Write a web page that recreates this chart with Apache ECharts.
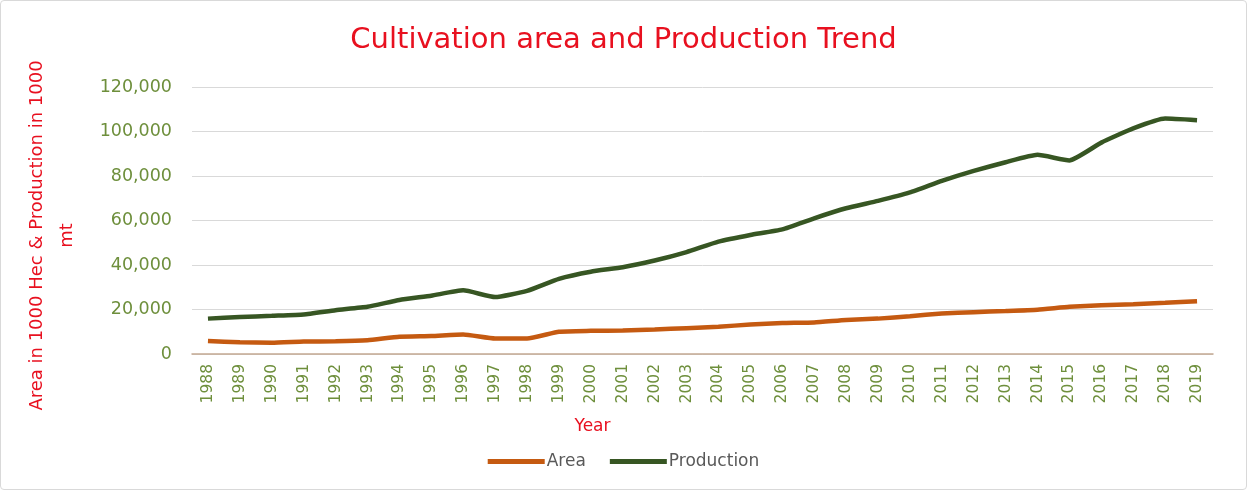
<!DOCTYPE html>
<html>
<head>
<meta charset="utf-8">
<script src="https://cdn.jsdelivr.net/npm/echarts@6/dist/echarts.min.js"></script>
<style>
html,body{margin:0;padding:0;background:#fff;}
#chart{position:absolute;left:0;top:0;width:1245px;height:488px;border:1px solid #d9d9d9;border-radius:4px;}
</style>
</head>
<body>
<div id="chart"></div>
<script>
var years = ['1988','1989','1990','1991','1992','1993','1994','1995','1996','1997','1998','1999','2000','2001','2002','2003','2004','2005','2006','2007','2008','2009','2010','2011','2012','2013','2014','2015','2016','2017','2018','2019'];
var area = [5800,5300,5100,5600,5700,6200,7800,8100,8800,7000,7000,10000,10400,10600,11000,11600,12200,13300,13900,14200,15300,15900,17000,18200,18800,19300,19900,21200,21900,22400,23000,23700];
var production = [15900,16600,17200,17800,19700,21200,24300,26200,28600,25600,28400,33800,37000,39000,42000,45800,50500,53500,56000,61000,65500,68800,72600,77800,82300,86200,89500,87000,95000,101400,105800,105100];
var yTicks = {min:0, max:120000, interval:20000};

var chart = echarts.init(document.getElementById('chart'));
var FONT = 'DejaVu Sans';
chart.setOption({
  animation:false,
  textStyle:{fontFamily:FONT},
  title:{
    text:'Cultivation area and Production Trend',
    left:'center', top:20,
    textStyle:{color:'#E8101F', fontSize:29, fontWeight:'normal', fontFamily:FONT}
  },
  legend:{
    data:['Area','Production'],
    bottom:14, left:'center',
    icon:'rect', itemWidth:57, itemHeight:5, itemGap:24,
    textStyle:{color:'#595959', fontSize:17, fontFamily:FONT, padding:[0,0,0,-3]}
  },
  grid:{left:191, right:33, top:86, bottom:135, containLabel:false},
  xAxis:{
    type:'category', data:years, boundaryGap:true,
    name:'Year', nameLocation:'middle', nameGap:64,
    nameTextStyle:{color:'#E8101F', fontSize:17, padding:[0,220,0,0]},
    axisLine:{lineStyle:{color:'#C4A992', width:1.5}},
    axisTick:{show:false},
    axisLabel:{rotate:90, color:'#6E8F3C', fontSize:15.5, margin:10}
  },
  yAxis:{
    type:'value', min:yTicks.min, max:yTicks.max, interval:yTicks.interval,
    name:'Area in 1000 Hec & Production in 1000\nmt',
    nameLocation:'middle', nameRotate:90, nameGap:110,
    nameTextStyle:{color:'#E8101F', fontSize:18, lineHeight:30, padding:[0,30,0,0]},
    axisLine:{show:false}, axisTick:{show:false},
    splitLine:{lineStyle:{color:'#D9D9D9', width:1}},
    axisLabel:{color:'#6E8F3C', fontSize:17.5, margin:20,
      formatter:function(v){return v.toLocaleString('en-US');}}
  },
  series:[
    {name:'Area', type:'line', data:area, symbol:'none', smooth:0.15,
     lineStyle:{color:'#C55A11', width:4.5}, itemStyle:{color:'#C55A11'}},
    {name:'Production', type:'line', data:production, symbol:'none', smooth:0.15,
     lineStyle:{color:'#375623', width:4.5}, itemStyle:{color:'#375623'}}
  ]
});
</script>
</body>
</html>
